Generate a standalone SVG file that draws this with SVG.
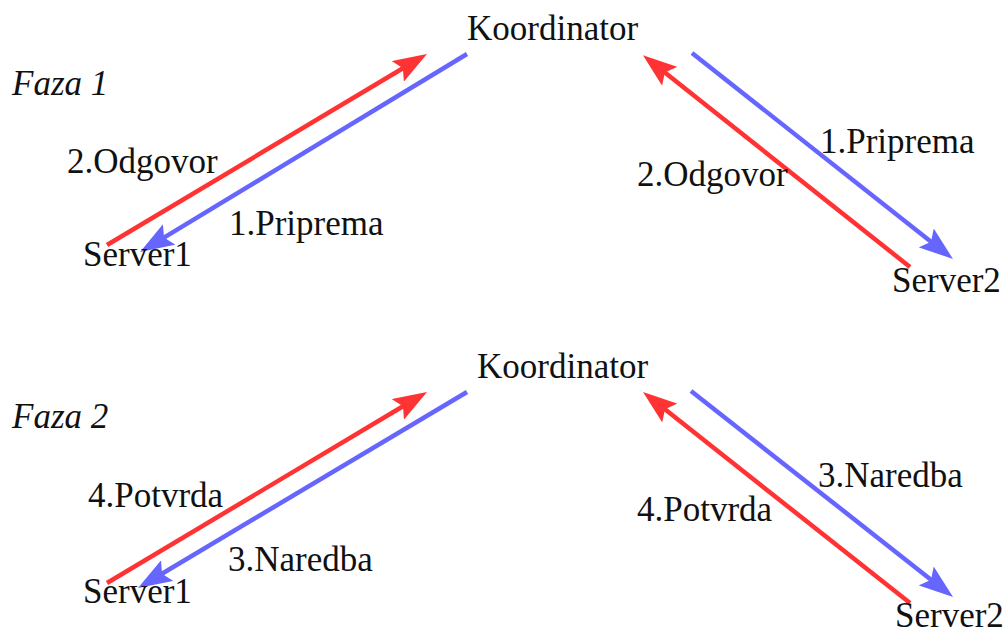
<svg xmlns="http://www.w3.org/2000/svg" width="1008" height="628" viewBox="0 0 1008 628">
<style>
text{font-family:"Liberation Serif","Times New Roman",serif;font-size:35px;fill:#111}
.it{font-style:italic}
.r{stroke:#ff3333;stroke-width:4.5;fill:none}
.b{stroke:#6666ff;stroke-width:4.5;fill:none}
</style>
<defs>
<marker id="mr" markerUnits="userSpaceOnUse" markerWidth="34" markerHeight="24" refX="8" refY="12" orient="auto" viewBox="0 0 34 24"><path d="M0,0 L34,12 L0,24 L6,12 z" fill="#ff3333"/></marker>
<marker id="mb" markerUnits="userSpaceOnUse" markerWidth="34" markerHeight="24" refX="8" refY="12" orient="auto" viewBox="0 0 34 24"><path d="M0,0 L34,12 L0,24 L6,12 z" fill="#6666ff"/></marker>
</defs>
<rect width="1008" height="628" fill="#fff"/>
<g id="connectors">
<line class="r" x1="107" y1="245" x2="404.6" y2="67.3" marker-end="url(#mr)"/>
<line class="b" x1="467" y1="54" x2="162.3" y2="238.6" marker-end="url(#mb)"/>
<line class="r" x1="910" y1="267" x2="663.3" y2="71.3" marker-end="url(#mr)"/>
<line class="b" x1="692" y1="53" x2="932.6" y2="242.9" marker-end="url(#mb)"/>
<line class="r" x1="107" y1="583" x2="404.7" y2="405.3" marker-end="url(#mr)"/>
<line class="b" x1="467" y1="392" x2="160.3" y2="574.7" marker-end="url(#mb)"/>
<line class="r" x1="910" y1="603" x2="663.4" y2="408.1" marker-end="url(#mr)"/>
<line class="b" x1="691" y1="391" x2="932.6" y2="580.9" marker-end="url(#mb)"/>
</g>
<g id="labels">
<text x="229" y="235">1.Priprema</text>
<text x="67" y="173">2.Odgovor</text>
<text x="820" y="153">1.Priprema</text>
<text x="637" y="186">2.Odgovor</text>
<text x="228" y="571">3.Naredba</text>
<text x="88" y="507">4.Potvrda</text>
<text x="818" y="487">3.Naredba</text>
<text x="637" y="521">4.Potvrda</text>
</g>
<g id="faza1"><text class="it" x="12" y="95">Faza 1</text></g>
<g id="faza2"><text class="it" x="12" y="428">Faza 2</text></g>
<g id="koordinator1"><text x="467" y="40">Koordinator</text></g>
<g id="server1a"><text x="83" y="266">Server1</text></g>
<g id="server2a"><text x="892" y="292">Server2</text></g>
<g id="koordinator2"><text x="477" y="378">Koordinator</text></g>
<g id="server1b"><text x="83" y="603">Server1</text></g>
<g id="server2b"><text x="895" y="627">Server2</text></g>
</svg>
